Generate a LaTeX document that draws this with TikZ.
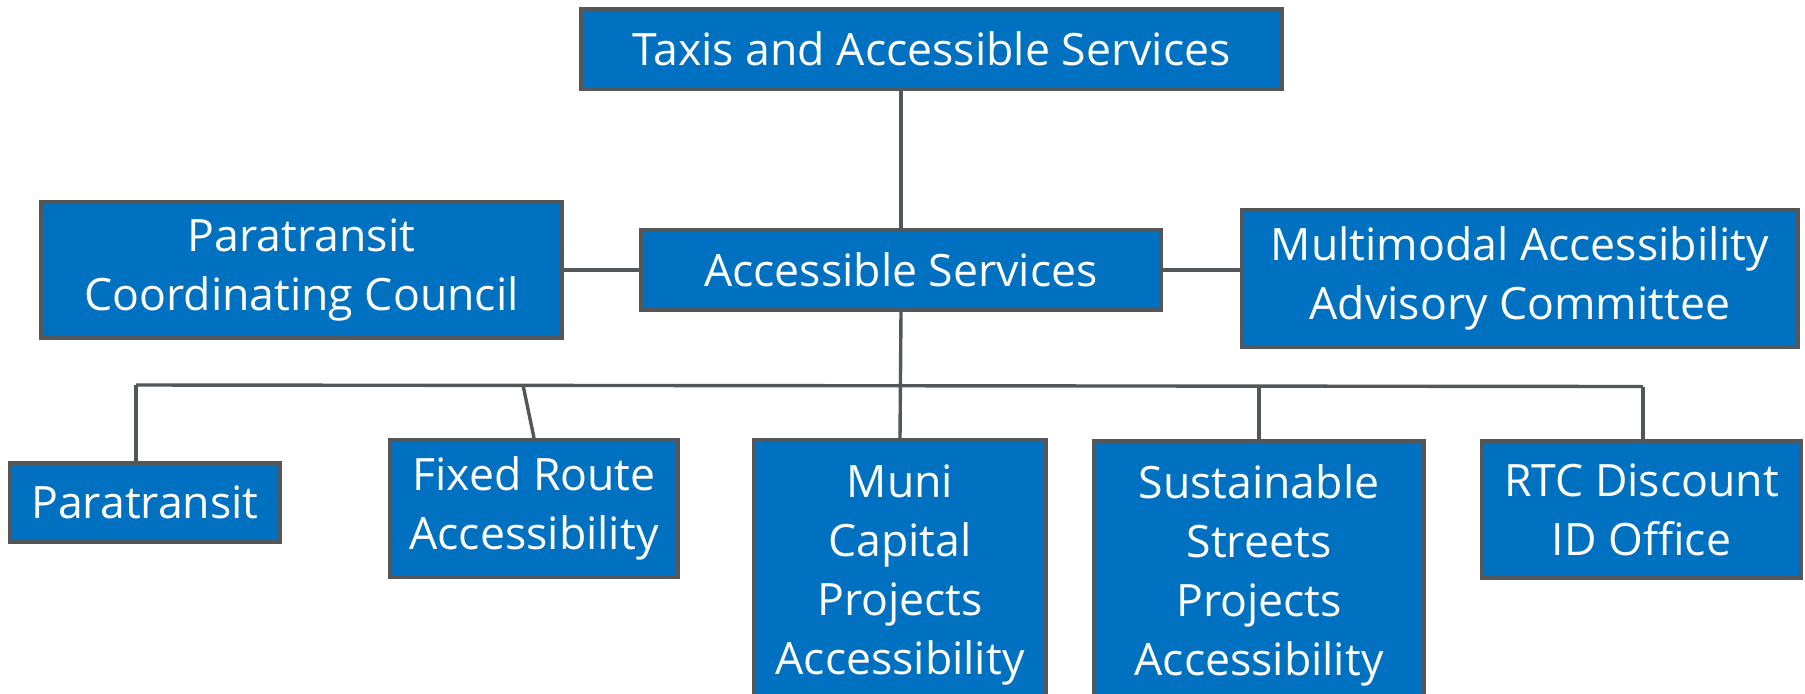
\documentclass[tikz,border=0pt]{standalone}
\usepackage{fontspec}
\setmainfont{Open Sans}
\begin{document}
\begin{tikzpicture}[x=0.5pt,y=-0.5pt,
  unit/.style={draw=edgegray,line width=2pt,fill=boxblue,text=white,align=center,
    inner sep=0pt,font=\fontsize{22.3pt}{29.5pt}\selectfont},
  link/.style={draw=edgegray,line width=1.7pt}]
\definecolor{boxblue}{HTML}{0070C0}
\definecolor{edgegray}{HTML}{53575A}
\useasboundingbox (0,0) rectangle (1805,693);
\clip (0,0) rectangle (1805,693);

% top level and the central unit
\node[unit,minimum width=350.5pt,minimum height=40pt] (top) at (931.5,49) {Taxis and Accessible Services};
\node[unit,minimum width=260pt,minimum height=40pt] (as) at (901,270) {Accessible Services};

% advisory bodies on either side
\node[unit,minimum width=260.5pt,minimum height=68pt] (pcc) at (301.5,270) {Paratransit\\Coordinating Council};
\node[unit,minimum width=278pt,minimum height=68.5pt] (maac) at (1520,278.5) {Multimodal Accessibility\\Advisory Committee};

% sections under Accessible Services
\node[unit,minimum width=135pt,minimum height=39.5pt] (para) at (145,502.5) {Paratransit};
\node[unit,minimum width=144pt,minimum height=68.5pt] (fixed) at (534,508.5) {Fixed Route\\Accessibility};
\node[unit,minimum width=146pt,minimum height=135pt] (muni) at (900,575) {Muni\\Capital\\Projects\\Accessibility};
\node[unit,minimum width=165pt,minimum height=135pt] (sust) at (1259,575.5) {Sustainable\\Streets\\Projects\\Accessibility};
\node[unit,minimum width=159.5pt,minimum height=68.5pt] (rtc) at (1641.5,509.5) {RTC Discount\\ID Office};

% distribution bar
\coordinate (busL) at (136,385);
\coordinate (busR) at (1643,386.5);
\coordinate (fxTop) at (523,385);

\draw[link] (as.north) -- (as.north |- top.south);
\draw[link] (pcc.east) -- (pcc.east -| as.west);
\draw[link] (as.east) -- (as.east -| maac.west);
\draw[link] (busL) -- (busR);
\draw[link] (as.south) -- (muni.north);
\draw[link] (busL) -- (busL |- para.north);
\draw[link] (fxTop) -- (fixed.north);
\draw[link] (sust.north) -- (sust.north |- busR);
\draw[link] (busR) -- (busR |- rtc.north);
\end{tikzpicture}
\end{document}
